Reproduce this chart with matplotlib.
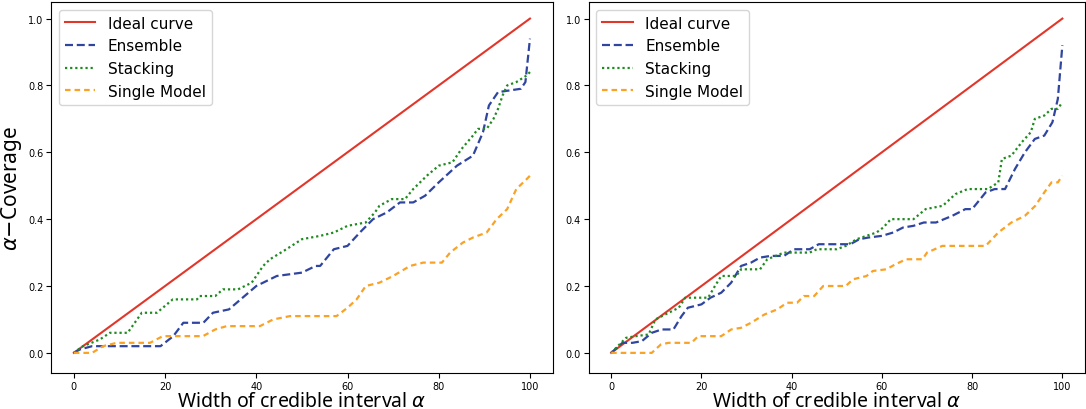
import matplotlib
matplotlib.use("Agg")
import matplotlib.pyplot as plt

# left panel data
ens_x_l = [0, 1.3, 4, 19, 21.8, 24, 28.4, 30.5, 34, 37, 40, 44.5, 50, 53, 54, 57, 60, 62.7, 65.6, 68.6,
           71.5, 74.4, 77, 80, 84, 87.5, 89.7, 91, 93, 98, 99, 100]
ens_y_l = [0, 0.01, 0.02, 0.02, 0.05, 0.09, 0.09, 0.12, 0.13, 0.165, 0.20, 0.23, 0.24, 0.26, 0.26, 0.31, 0.32,
           0.36, 0.40, 0.42, 0.45, 0.45, 0.47, 0.51, 0.56, 0.59, 0.66, 0.74, 0.78, 0.79, 0.81, 0.94]
stk_x_l = [0, 2, 5.7, 7.9, 11.8, 14.9, 18.2, 21.7, 27, 27.6, 31, 32.7, 36, 39, 41.5, 43, 46.6, 50, 54, 57,
           60, 64, 66, 67, 69.7, 72.6, 74.4, 77.4, 80, 83, 85, 87.5, 88.6, 90.5, 92, 93, 94, 95, 97, 99.3, 100]
stk_y_l = [0, 0.02, 0.04, 0.06, 0.06, 0.12, 0.12, 0.16, 0.16, 0.17, 0.17, 0.19, 0.19, 0.21, 0.26, 0.28, 0.31,
           0.34, 0.35, 0.36, 0.38, 0.39, 0.42, 0.44, 0.46, 0.46, 0.49, 0.53, 0.56, 0.57, 0.61, 0.65, 0.67, 0.67,
           0.70, 0.73, 0.77, 0.80, 0.81, 0.83, 0.84]
sgl_x_l = [0, 4, 6.4, 9.4, 16.7, 19.5, 28.3, 31, 33.5, 40.8, 43.7, 47.4, 57.6, 60, 62, 64, 67, 70, 73.7,
           76.6, 80.7, 82.5, 85.3, 87.5, 90.5, 92.7, 95, 97, 99.3, 100]
sgl_y_l = [0, 0, 0.02, 0.03, 0.03, 0.05, 0.05, 0.07, 0.08, 0.08, 0.10, 0.11, 0.11, 0.135, 0.16, 0.20, 0.21,
           0.23, 0.26, 0.27, 0.27, 0.30, 0.33, 0.345, 0.36, 0.40, 0.43, 0.49, 0.52, 0.53]

# right panel data
ens_x_r = [0, 2.5, 4.7, 6.8, 9, 11.2, 13.8, 15.6, 17, 20, 22, 24.4, 26.6, 28.8, 31, 33, 35.3, 38.3, 40.5,
           44, 46, 53, 55, 57, 60, 62.5, 64.7, 67, 69.3, 72, 75.6, 78.5, 80, 83, 85, 87.3, 89.5, 91.7, 93.9,
           96, 97.8, 99, 100]
ens_y_r = [0, 0.03, 0.03, 0.035, 0.06, 0.07, 0.07, 0.11, 0.135, 0.145, 0.165, 0.18, 0.21, 0.26, 0.27, 0.285,
           0.29, 0.29, 0.31, 0.31, 0.325, 0.325, 0.34, 0.345, 0.35, 0.36, 0.375, 0.38, 0.39, 0.39, 0.41, 0.43,
           0.43, 0.48, 0.49, 0.49, 0.55, 0.60, 0.64, 0.65, 0.69, 0.76, 0.92]
stk_x_r = [0, 3.3, 5.5, 8.3, 9.8, 12, 15, 16.4, 21.5, 23, 24.4, 27.7, 28.8, 33, 34.6, 38.3, 44, 45.6, 50,
           52, 54.4, 56.6, 58.8, 60.3, 62, 67, 69.7, 73.5, 76.3, 79, 83.5, 85.8, 86.6, 88.7, 91, 93, 93.9, 96,
           97.6, 99, 100]
stk_y_r = [0, 0.045, 0.05, 0.055, 0.10, 0.115, 0.135, 0.165, 0.165, 0.20, 0.23, 0.23, 0.25, 0.25, 0.28, 0.30,
           0.30, 0.31, 0.31, 0.32, 0.34, 0.35, 0.36, 0.375, 0.40, 0.40, 0.43, 0.44, 0.475, 0.49, 0.49, 0.51,
           0.58, 0.59, 0.63, 0.66, 0.70, 0.71, 0.73, 0.73, 0.75]
sgl_x_r = [0, 9, 11, 12.7, 17.8, 19.3, 24.4, 26.6, 28.8, 31, 34, 36.8, 39, 41.2, 42.7, 45, 47, 52, 53.6,
           56.6, 58, 61, 63, 65.4, 69, 70, 73.4, 83, 85.8, 88.7, 91.7, 94, 96, 97.6, 99, 100]
sgl_y_r = [0, 0, 0.025, 0.03, 0.03, 0.05, 0.05, 0.07, 0.075, 0.09, 0.115, 0.13, 0.15, 0.15, 0.17, 0.17, 0.20,
           0.20, 0.22, 0.23, 0.245, 0.25, 0.265, 0.28, 0.28, 0.30, 0.32, 0.32, 0.36, 0.39, 0.41, 0.44, 0.48,
           0.51, 0.51, 0.53]

ideal_x = [0, 100]
ideal_y = [0, 1]

panels = [
    (ens_x_l, ens_y_l, stk_x_l, stk_y_l, sgl_x_l, sgl_y_l),
    (ens_x_r, ens_y_r, stk_x_r, stk_y_r, sgl_x_r, sgl_y_r),
]

fig = plt.figure(figsize=(10.86, 4.10), dpi=100)
positions = [[0.047, 0.088, 0.462, 0.905], [0.542, 0.088, 0.457, 0.905]]

for i, (ex, ey, sx, sy, gx, gy) in enumerate(panels):
    ax = fig.add_axes(positions[i])
    ax.plot(ideal_x, ideal_y, color="#e2362a", lw=1.5, label="Ideal curve")
    ax.plot(ex, ey, color="#2f45a0", lw=1.6, ls=(0, (3.6, 1.7)), label="Ensemble")
    ax.plot(sx, sy, color="#1f8a1f", lw=1.6, ls=(0, (1, 1.3)), label="Stacking")
    ax.plot(gx, gy, color="#f9a225", lw=1.6, ls=(0, (2.5, 1.8)), label="Single Model")
    ax.set_xlim(-5, 105)
    ax.set_ylim(-0.06, 1.05)
    ax.set_xticks([0, 20, 40, 60, 80, 100])
    ax.set_yticks([0.0, 0.2, 0.4, 0.6, 0.8, 1.0])
    ax.tick_params(labelsize=7, pad=2)
    ax.set_xlabel(r"Width of credible interval $\alpha$", fontsize=14, family="Noto Sans", labelpad=0)
    if i == 0:
        ax.set_ylabel(r"$\alpha$$-$Coverage", fontsize=15, family="Noto Sans", labelpad=3)
    ax.legend(loc="upper left", fontsize=11, handlelength=2.0, borderaxespad=0.5)

fig.savefig("out.png", dpi=100)
